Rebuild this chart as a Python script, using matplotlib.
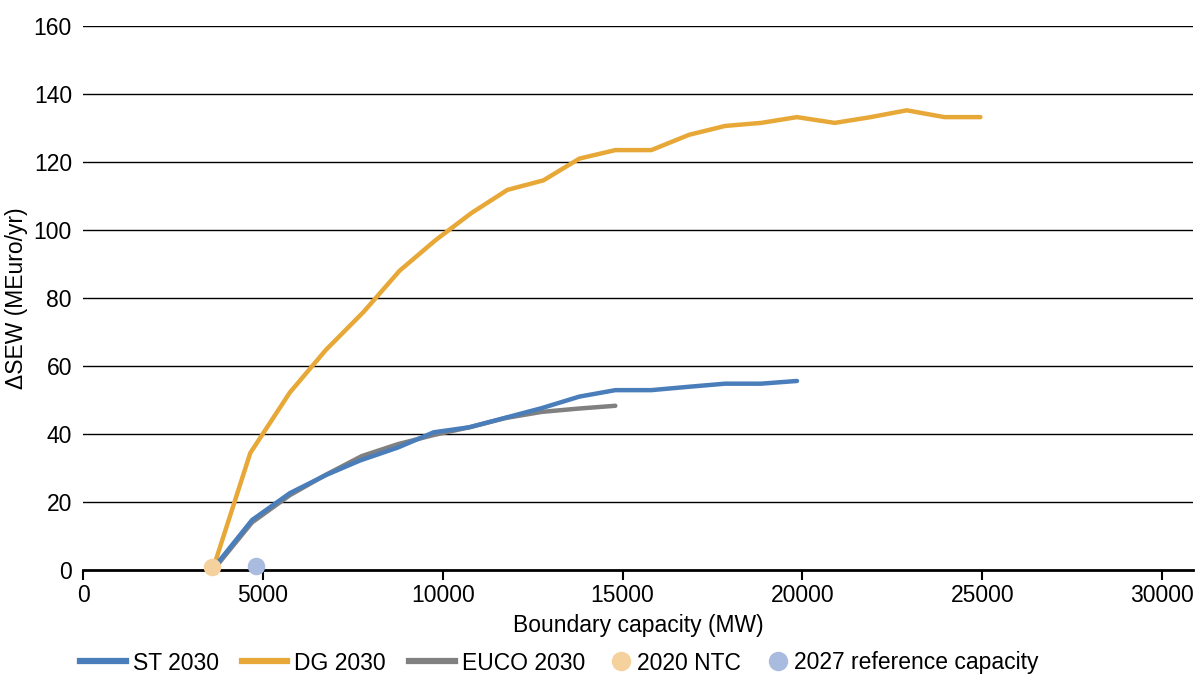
import matplotlib
matplotlib.use("Agg")
import matplotlib.pyplot as plt
from matplotlib.lines import Line2D

plt.rcParams['font.family'] = ['Liberation Sans', 'DejaVu Sans']

st_x = [3700, 4700, 5750, 6750, 7700, 8750, 9750, 10750, 11750, 12750, 13800, 14800, 15800, 16850, 17850, 18850, 19850]
st_y = [1.5, 14.7, 22.6, 27.9, 32.2, 36.0, 40.5, 42.0, 44.8, 47.6, 51.0, 52.9, 52.9, 53.9, 54.8, 54.8, 55.6]

dg_x = [3650, 4650, 5750, 6750, 7800, 8800, 9800, 10800, 11800, 12800, 13800, 14800, 15800, 16850, 17850, 18850, 19850,
        20900, 21900, 22900, 23950, 24950]
dg_y = [1.5, 34.4, 52.2, 64.7, 75.9, 88.0, 97.0, 105.0, 111.8, 114.6, 121.0, 123.5, 123.5, 128.0, 130.6, 131.5, 133.2,
        131.5, 133.2, 135.2, 133.2, 133.2]

euco_x = [3700, 4700, 5750, 6750, 7750, 8750, 9750, 10750, 11750, 12750, 13800, 14800]
euco_y = [1.0, 14.0, 22.0, 28.0, 33.5, 37.0, 39.7, 42.0, 44.7, 46.5, 47.5, 48.3]

ntc_x, ntc_y = [3600], [1.0]
ref_x, ref_y = [4800], [1.2]

c_st = '#4A7EBB'
c_dg = '#E8A838'
c_euco = '#808080'
c_ntc = '#F5D29D'
c_ref = '#A9BCE0'

fs = 16.5

fig = plt.figure(figsize=(11.97, 6.81), dpi=100)
ax = fig.add_axes([83/1197, 1-570/681, (1193-83)/1197, (570-26)/681])

lw = 3.2
ax.plot(euco_x, euco_y, color=c_euco, lw=lw, solid_capstyle='round', solid_joinstyle='round', zorder=3)
ax.plot(dg_x, dg_y, color=c_dg, lw=lw, solid_capstyle='round', solid_joinstyle='round', zorder=3)
ax.plot(st_x, st_y, color=c_st, lw=lw, solid_capstyle='round', solid_joinstyle='round', zorder=4)
ax.scatter(ntc_x, ntc_y, s=160, color=c_ntc, zorder=5, clip_on=False, linewidths=0)
ax.scatter(ref_x, ref_y, s=160, color=c_ref, zorder=5, clip_on=False, linewidths=0)

ax.set_xlim(0, 30860)
ax.set_ylim(0, 160)
ax.set_xticks(range(0, 30001, 5000))
ax.set_yticks(range(0, 161, 20))
for y in range(20, 161, 20):
    ax.axhline(y, color='black', lw=1.0, zorder=1)

for s in ['top', 'right', 'left']:
    ax.spines[s].set_visible(False)
ax.spines['bottom'].set_linewidth(2.0)
ax.spines['bottom'].set_zorder(2)
ax.tick_params(axis='y', length=0, pad=8, labelsize=fs)
ax.tick_params(axis='x', length=7, width=1.5, direction='out', pad=3, labelsize=fs)

ax.set_xlabel('Boundary capacity (MW)', fontsize=fs, labelpad=5)
ax.set_ylabel('ΔSEW (MEuro/yr)', fontsize=fs, labelpad=4)

line_handles = [
    Line2D([], [], color=c_st, lw=4.5),
    Line2D([], [], color=c_dg, lw=4.5),
    Line2D([], [], color=c_euco, lw=4.5),
]
line_labels = ['ST 2030', 'DG 2030', 'EUCO 2030']
mk_handles = [
    Line2D([], [], marker='o', color=c_ntc, lw=0, markersize=13),
    Line2D([], [], marker='o', color=c_ref, lw=0, markersize=13),
]
mk_labels = ['2020 NTC', '2027 reference capacity']

leg1 = fig.legend(line_handles, line_labels, loc='center left', bbox_to_anchor=(80/1197, 1-663/681), ncol=3,
                  frameon=False, fontsize=fs, handlelength=2.0, columnspacing=1.0, handletextpad=0.3,
                  borderpad=0, borderaxespad=0)
leg2 = fig.legend(mk_handles, mk_labels, loc='center left', bbox_to_anchor=(612/1197, 1-663/681), ncol=2,
                  frameon=False, fontsize=fs, handlelength=0.8, columnspacing=1.2, handletextpad=0.3,
                  borderpad=0, borderaxespad=0)

fig.savefig('out.png', dpi=100)
